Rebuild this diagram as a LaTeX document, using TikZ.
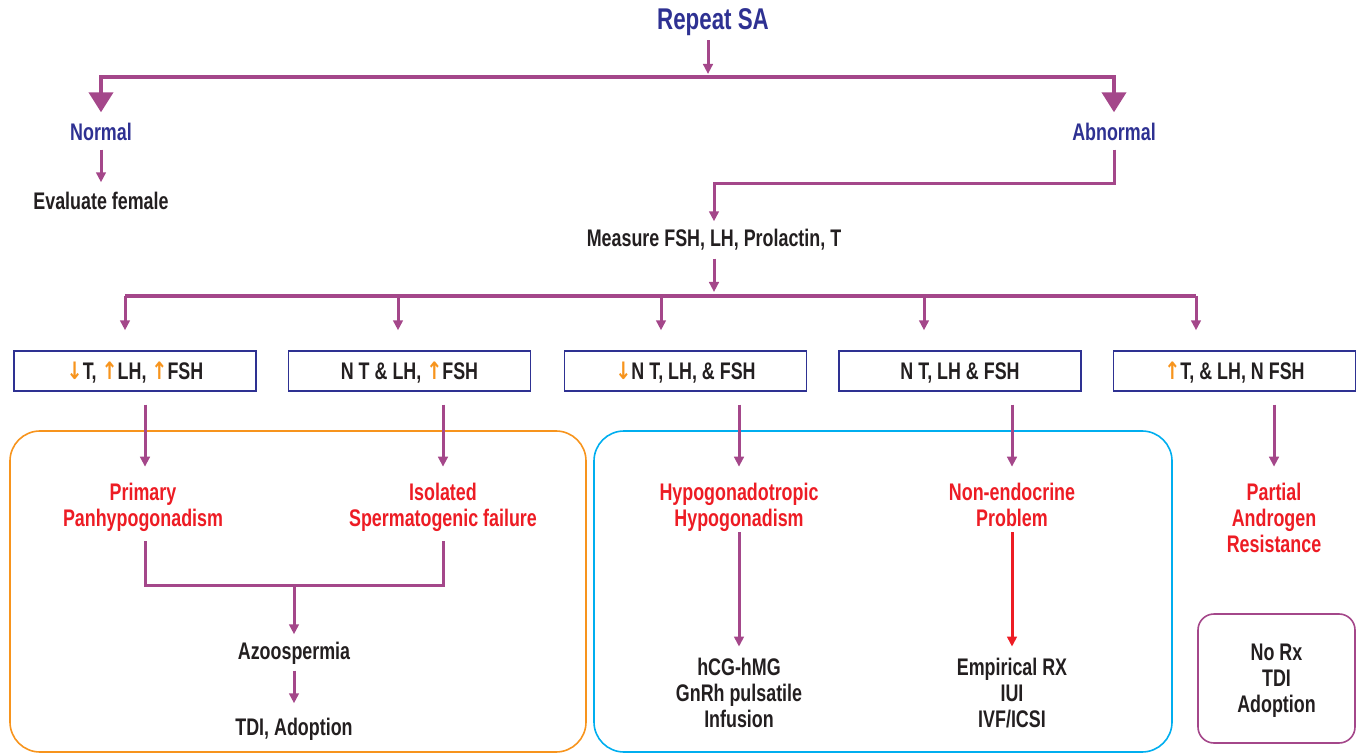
\documentclass[tikz,border=0pt]{standalone}
\usepackage{fontspec}
\setmainfont{Liberation Sans}[FakeStretch=0.745]
\newfontfamily\sym{DejaVu Sans}[FakeStretch=0.80]
\usetikzlibrary{arrows.meta,calc}
\definecolor{pur}{HTML}{A4478A}
\definecolor{navy}{HTML}{2E3192}
\definecolor{rd}{HTML}{ED1C24}
\definecolor{org}{HTML}{F7941D}
\definecolor{cyan}{HTML}{00AEEF}
\definecolor{ink}{HTML}{231F20}
\newcommand{\st}{\rule[-3pt]{0pt}{12pt}}
\tikzset{
  base/.style={font=\bfseries\fontsize{12}{13}\selectfont, align=center, inner sep=0pt},
  one/.style={text height=11pt, text depth=2.3pt},
  lbl/.style={base, one, text=ink},
  multi/.style={base, text=ink},
  head/.style={base, one, text=navy},
  titl/.style={font=\bfseries\fontsize{15}{16}\selectfont, text=navy, inner sep=0pt, text height=10.5pt, text depth=3.5pt},
  res/.style={base, text=rd},
  labbox/.style={base, one, text=ink, draw=navy, line width=0.7pt, minimum width=121pt, minimum height=20pt},
  arr/.style={draw=pur, line width=1.5pt, -{Triangle[width=4.8pt,length=5pt]}},
  bigarr/.style={draw=pur, line width=2pt, -{Triangle[width=12pt,length=10pt]}},
  ln/.style={draw=pur, line width=1.5pt},
  bar/.style={draw=pur, line width=2pt},
  grp/.style={line width=0.8pt, rounded corners=15pt},
}
\newcommand{\up}{{\color{org}\sym ↑}}
\newcommand{\dn}{{\color{org}\sym ↓}}
\begin{document}
\begin{tikzpicture}[x=0.5pt,y=-0.5pt]
\useasboundingbox (0,0) rectangle (1359,753);
% group frames
\draw[grp, draw=org] (10,431) rectangle (586,752);
\draw[grp, draw=cyan] (594,431) rectangle (1172,752);
% nodes
\node[titl] (rep) at (713,23) {Repeat SA};
\node[head] (nor) at (101,132) {Normal};
\node[head] (abn) at (1114,132) {Abnormal};
\node[lbl] (evf) at (101,201) {Evaluate female};
\node[lbl] (mea) at (714,238) {Measure FSH, LH, Prolactin, T};
\node[labbox] (b1) at (135,371) {\dn T, \up LH, \up FSH};
\node[labbox] (b2) at (409.5,371) {N T \& LH, \up FSH};
\node[labbox] (b3) at (685.5,371) {\dn N T, LH, \& FSH};
\node[labbox] (b4) at (960,371) {N T, LH \& FSH};
\node[labbox] (b5) at (1234.5,371) {\up T, \& LH, N FSH};
\node[res] (pri) at (143,507) {\st Primary\\\st Panhypogonadism};
\node[res] (iso) at (443,507) {\st Isolated\\\st Spermatogenic failure};
\node[res] (hyp) at (739,507) {\st Hypogonadotropic\\\st Hypogonadism};
\node[res] (non) at (1012,507) {\st Non-endocrine\\\st Problem};
\node[res] (par) at (1274,520) {\st Partial\\\st Androgen\\\st Resistance};
\node[lbl] (azo) at (294,651) {Azoospermia};
\node[lbl] (tdi) at (294,727) {TDI, Adoption};
\node[multi] (hcg) at (739,695) {\st hCG-hMG\\\st GnRh pulsatile\\\st Infusion};
\node[multi] (emp) at (1012,695) {\st Empirical RX\\\st IUI\\\st IVF/ICSI};
\draw[draw=pur, line width=0.8pt, rounded corners=8pt] (1198,614) rectangle (1355,743);
\node[multi] (nrx) at (1276.5,680) {\st No Rx\\\st TDI\\\st Adoption};
% top split
\coordinate (tb) at (708,77);
\draw[arr] ($(rep.south)+(-5,3)$) -- ($(tb)+(0,-3)$);
\draw[bigarr] (tb) -| ($(nor.north)+(0,-6)$);
\draw[bigarr] (tb) -| ($(abn.north)+(0,-6)$);
\draw[arr] ($(nor.south)+(0,4)$) -- ($(evf.north)+(0,-5)$);
\draw[arr] ($(abn.south)+(0,4)$) -- ($(abn.south)+(0,38)$) -| ($(mea.north)+(0,-3)$);
% measure split
\coordinate (mb) at (714,296);
\draw[arr] ($(mea.south)+(0,7)$) -- ($(mb)+(0,-4)$);
\draw[bar] (125,296) -- (1196,296);
\foreach \x/\b in {125/b1,398/b2,661/b3,924/b4,1196/b5}{
  \coordinate (dtop) at (\x,296);
  \draw[arr] (dtop) -- ($(dtop |- \b.north)+(0,-20)$);
}
% box to result
\draw[arr] ($(b1.south)+(10,13)$) -- ($(b1.south)+(10,75)$);
\draw[arr] ($(b2.south)+(33.5,13)$) -- ($(b2.south)+(33.5,75)$);
\draw[arr] ($(b3.south)+(53.5,13)$) -- ($(b3.south)+(53.5,75)$);
\draw[arr] ($(b4.south)+(52,13)$) -- ($(b4.south)+(52,75)$);
\draw[arr] ($(b5.south)+(39.5,13)$) -- ($(b5.south)+(39.5,75)$);
% merge to azoospermia
\coordinate (mg) at (294,585);
\draw[ln] ($(pri.south)+(2,9)$) |- (mg);
\draw[ln] ($(iso.south)+(0,9)$) |- (mg);
\draw[arr] (mg) -- ($(azo.north)+(0,-3)$);
\draw[arr] ($(azo.south)+(0,6)$) -- ($(tdi.north)+(0,-10)$);
\draw[arr] (hyp.south) -- ($(hcg.north)+(0,-10)$);
\draw[arr, draw=rd] (non.south) -- ($(emp.north)+(0,-10)$);
\end{tikzpicture}
\end{document}
